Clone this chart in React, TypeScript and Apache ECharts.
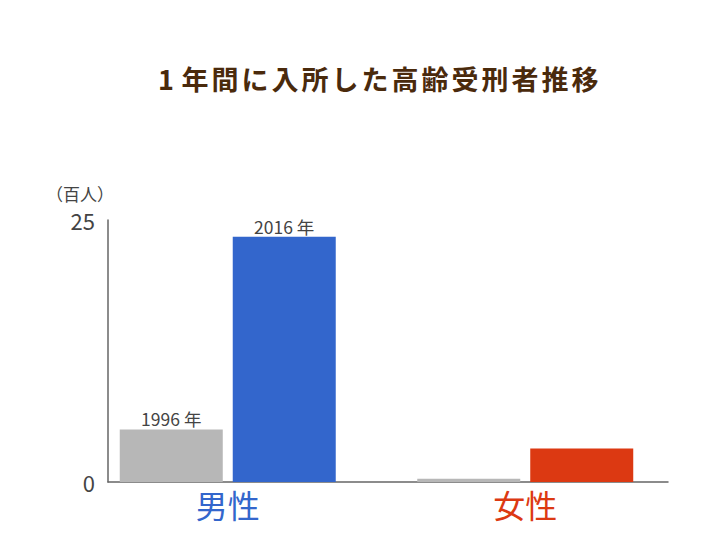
import React, { useEffect, useRef } from "react";
import * as echarts from "echarts";

const titleChars = ["1", "年", "間", "に", "入", "所", "し", "た", "高", "齢", "受", "刑", "者", "推", "移"];
const categories = ["男性", "女性"];
const categoryColors = ["#3366cc", "#dc3912"];
const years = ["1996", "2016"];
const values1996 = [5.0, 0.3];
const values2016 = [23.4, 3.2];
const colors1996 = ["#b7b7b7", "#b7b7b7"];
const colors2016 = ["#3366cc", "#dc3912"];
const showLabel = [true, false];
const yTicks = [0, 25];
const unitLabel = "（百人）";

export default function App() {
  const ref = useRef<HTMLDivElement>(null);
  useEffect(() => {
    document.body.style.margin = "0";
    const chart = echarts.init(ref.current!, undefined, { renderer: "svg" });
    const font = "'Noto Sans CJK JP', 'Noto Sans', sans-serif";
    const mk = (vals: number[], cols: string[], year: string) =>
      vals.map((v, i) => ({
        value: v,
        itemStyle: { color: cols[i] },
        label: {
          show: showLabel[i],
          position: "top",
          formatter: `${year} 年`,
          color: "#444",
          fontSize: 17.5,
          fontFamily: font,
          distance: 2,
        },
      }));
    const titleText = titleChars.map((c, i) => `{${i === 0 ? "d" : "c"}|${c}}`).join("");
    const titleStyle = { fontSize: 27, fontWeight: "bold", color: "#4a2a0c", fontFamily: font, align: "center" };
    chart.setOption({
      animation: false,
      backgroundColor: "#ffffff",
      textStyle: { fontFamily: font },
      title: {
        text: titleText,
        left: 147,
        top: 60,
        textStyle: {
          ...titleStyle,
          rich: {
            c: { ...titleStyle, width: 30 },
            d: { ...titleStyle, width: 28 },
          },
        },
      },
      grid: [
        { left: 79, right: 52, top: 220, bottom: 63 },
        { left: 108, right: 58, top: 220, bottom: 63 },
      ],
      xAxis: [
        {
          type: "category",
          gridIndex: 0,
          data: categories,
          axisLine: { show: false },
          axisTick: { show: false },
          axisLabel: {
            fontSize: 32,
            margin: 6,
            fontFamily: font,
            color: (_v: any, i: number) => categoryColors[i],
          },
        },
        {
          type: "value",
          gridIndex: 1,
          min: 0,
          max: 1,
          axisLine: { show: true, lineStyle: { color: "#666", width: 1.5 } },
          axisTick: { show: false },
          axisLabel: { show: false },
          splitLine: { show: false },
        },
      ],
      yAxis: [
        {
          type: "value",
          gridIndex: 0,
          min: yTicks[0],
          max: yTicks[1],
          show: false,
        },
        {
          type: "value",
          gridIndex: 1,
          min: yTicks[0],
          max: yTicks[1],
          interval: yTicks[1] - yTicks[0],
          name: unitLabel,
          nameLocation: "end",
          nameGap: 18,
          nameTextStyle: { fontSize: 17, color: "#444", fontFamily: font, align: "right", padding: [0, -6, 0, 0] },
          axisLine: { show: true, lineStyle: { color: "#666", width: 1.5 } },
          axisTick: { show: false },
          splitLine: { show: false },
          axisLabel: { fontSize: 22, color: "#444", margin: 13, fontFamily: font },
        },
      ],
      series: [
        {
          name: years[0],
          type: "bar",
          xAxisIndex: 0,
          yAxisIndex: 0,
          barWidth: 103,
          barGap: "9.7%",
          data: mk(values1996, colors1996, years[0]),
        },
        {
          name: years[1],
          type: "bar",
          xAxisIndex: 0,
          yAxisIndex: 0,
          barWidth: 103,
          barGap: "9.7%",
          data: mk(values2016, colors2016, years[1]),
        },
      ],
    });
    return () => chart.dispose();
  }, []);
  return <div ref={ref} style={{ width: 726, height: 545 }} />;
}
